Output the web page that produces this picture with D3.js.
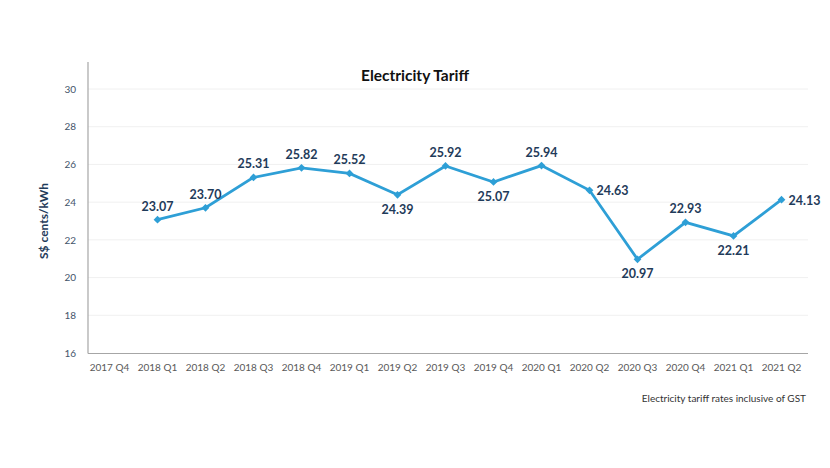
<!DOCTYPE html>
<html><head><meta charset="utf-8">
<script src="https://cdn.jsdelivr.net/npm/d3@7"></script>
<style>body{margin:0;background:#fff;} text{font-family:Lato,"Open Sans",sans-serif;}</style>
</head><body>
<svg id="c" width="830" height="468"></svg>
<script>
const categories = ["2017 Q4","2018 Q1","2018 Q2","2018 Q3","2018 Q4","2019 Q1","2019 Q2","2019 Q3","2019 Q4","2020 Q1","2020 Q2","2020 Q3","2020 Q4","2021 Q1","2021 Q2"];
const values = [null,23.07,23.70,25.31,25.82,25.52,24.39,25.92,25.07,25.94,24.63,20.97,22.93,22.21,24.13];
const labelPos = [null,"above","above","above","above","above","below","above","below","above","right","below","above","below","right"];
const yTicks = [16,18,20,22,24,26,28,30];

const svg = d3.select("#c");
const x = d3.scaleBand().domain(categories).range([85.5, 805.5]);
const y = d3.scaleLinear().domain([16,30]).range([353, 89]);

// gridlines
svg.append("g").selectAll("line").data(yTicks.slice(1)).join("line")
  .attr("x1",88).attr("x2",808).attr("y1",d=>y(d)).attr("y2",d=>y(d))
  .attr("stroke","#f0f0f0").attr("stroke-width",1);

// axes
const yAxis = svg.append("g").attr("transform","translate(88,0)")
  .call(d3.axisLeft(y).tickValues(yTicks).tickSize(0).tickPadding(12));
yAxis.select(".domain").remove();
yAxis.selectAll("text").attr("fill","#44546a").attr("font-size",10);
svg.append("line").attr("x1",88).attr("x2",88).attr("y1",62).attr("y2",353.5).attr("stroke","#a6a6a6").attr("stroke-width",1.2);

const xAxis = svg.append("g").attr("transform","translate(0,353.5)")
  .call(d3.axisBottom(x).tickSize(0).tickPadding(10));
xAxis.select(".domain").remove();
xAxis.selectAll("text").attr("fill","#595959").attr("font-size",10);
svg.append("line").attr("x1",88).attr("x2",808).attr("y1",353.5).attr("y2",353.5).attr("stroke","#a6a6a6").attr("stroke-width",1.2);

// title
svg.append("text").attr("x",415).attr("y",81).attr("text-anchor","middle")
  .attr("font-size",15.5).attr("font-weight","bold").attr("fill","#111").text("Electricity Tariff");
svg.append("text").attr("transform","translate(48,221) rotate(-90)").attr("text-anchor","middle")
  .attr("font-size",12).attr("font-weight","bold").attr("fill","#1f3b5a").text("S$ cents/kWh");
svg.append("text").attr("x",806).attr("y",402).attr("text-anchor","end")
  .attr("font-size",10).attr("fill","#333").text("Electricity tariff rates inclusive of GST");

const pts = categories.map((c,i)=>({c,v:values[i],p:labelPos[i]})).filter(d=>d.v!=null);
const cx = d=>x(d.c)+x.bandwidth()/2;
svg.append("path").datum(pts)
  .attr("d", d3.line().x(cx).y(d=>y(d.v)))
  .attr("fill","none").attr("stroke","#2e9fd6").attr("stroke-width",2.8);
svg.append("g").selectAll("path").data(pts).join("path")
  .attr("transform",d=>`translate(${cx(d)},${y(d.v)}) rotate(45)`)
  .attr("d", d3.symbol(d3.symbolSquare, 30)())
  .attr("fill","#2e9fd6");

svg.append("g").selectAll("text").data(pts).join("text")
  .attr("x",d=>d.p==="right"?cx(d)+7:cx(d))
  .attr("y",d=>d.p==="above"?y(d.v)-9:d.p==="below"?y(d.v)+19:y(d.v)+5)
  .attr("text-anchor",d=>d.p==="right"?"start":"middle")
  .attr("font-size",12.5).attr("font-weight","bold").attr("fill","#1f3b5a")
  .text(d=>d.v.toFixed(2));
</script>
</body></html>
